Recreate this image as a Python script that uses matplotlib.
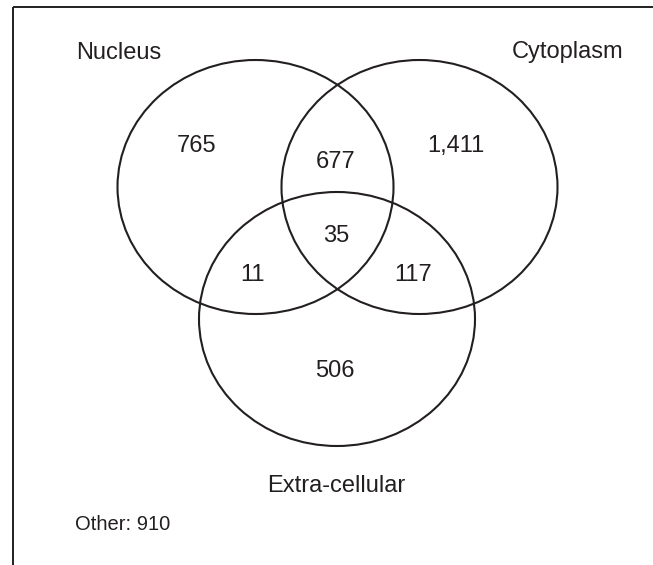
import matplotlib
matplotlib.use("Agg")
import matplotlib.pyplot as plt
from matplotlib.patches import Ellipse

# set names and region counts
set_names = ["Nucleus", "Cytoplasm", "Extra-cellular"]
only_counts = [765, 1411, 506]          # nucleus, cytoplasm, extra-cellular only
pair_counts = [677, 11, 117]            # N&C, N&E, C&E
all_three = 35
other = 910

ink = "#231f20"
plt.rcParams['font.family'] = ['Liberation Sans', 'DejaVu Sans']

W, H = 653, 565
fig = plt.figure(figsize=(W / 100, H / 100), dpi=100)
ax = fig.add_axes([0, 0, 1, 1])
ax.set_xlim(0, W)
ax.set_ylim(H, 0)
ax.axis('off')

# frame lines (top and left only)
ax.plot([13, W], [7, 7], color=ink, lw=1.4, solid_capstyle='butt')
ax.plot([13, 13], [7, H], color=ink, lw=1.4, solid_capstyle='butt')

# circles (slightly wider than tall, as in the source)
rx, ry = 138, 127
centres = [(255.5, 187), (419.5, 187), (337, 319)]
for cx, cy in centres:
    ax.add_patch(Ellipse((cx, cy), 2 * rx, 2 * ry, fill=False, ec=ink, lw=1.5))

def fmt(n):
    return f"{n:,}"

fs = 17
# set labels (baseline positions)
ax.text(119, 59, set_names[0], ha='center', va='baseline', fontsize=fs, color=ink)
ax.text(568, 58, set_names[1], ha='center', va='baseline', fontsize=fs, color=ink)
ax.text(336, 492, set_names[2], ha='center', va='baseline', fontsize=fs, color=ink)

# region counts
ax.text(197, 152, fmt(only_counts[0]), ha='center', va='baseline', fontsize=fs, color=ink)
ax.text(456, 152, fmt(only_counts[1]), ha='center', va='baseline', fontsize=fs, color=ink)
ax.text(335, 377, fmt(only_counts[2]), ha='center', va='baseline', fontsize=fs, color=ink)
ax.text(336, 168, fmt(pair_counts[0]), ha='center', va='baseline', fontsize=fs, color=ink)
ax.text(252, 281, fmt(pair_counts[1]), ha='center', va='baseline', fontsize=fs, color=ink)
ax.text(413, 281, fmt(pair_counts[2]), ha='center', va='baseline', fontsize=fs, color=ink)
ax.text(336, 242, fmt(all_three), ha='center', va='baseline', fontsize=fs, color=ink)

ax.text(75, 530, f"Other: {other}", ha='left', va='baseline', fontsize=14.5, color=ink)

fig.savefig("out.png", dpi=100, facecolor='white')
